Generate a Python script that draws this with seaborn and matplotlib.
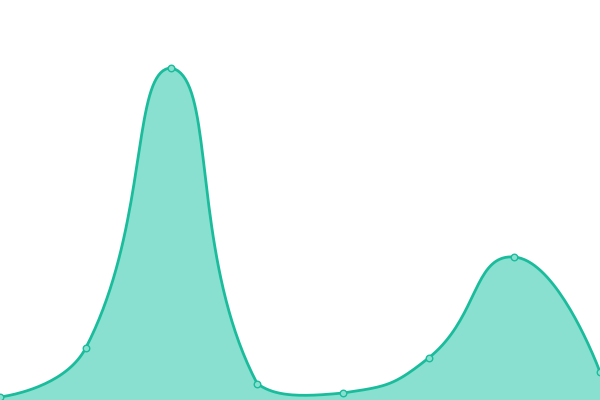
import numpy as np
import pandas as pd
import matplotlib
matplotlib.use("Agg")
import matplotlib.pyplot as plt
import seaborn as sns

# values (y axis 0..400, categories evenly spaced)
categories = [0, 1, 2, 3, 4, 5, 6, 7]
values = [3, 52, 332, 16.5, 7, 42, 143, 28]

LINE = "#1abc9c"
FILL = "#8ae0d0"
SMOOTH = 0.5


def smooth_curve(xs, ys, sx, n=40):
    """Bezier smoothing like a charting lib's smooth line, control points
    kept inside the bounding box of the data (done in pixel-ish units)."""
    px = np.asarray(xs, float) * sx
    py = np.asarray(ys, float)
    lo = np.array([px.min(), py.min()])
    hi = np.array([px.max(), py.max()])
    k = len(px)
    cps = []
    for i in range(k):
        p = np.array([px[i], py[i]])
        if i == 0 or i == k - 1:
            cps.append((p, p))
            continue
        prev = np.array([px[i - 1], py[i - 1]])
        nxt = np.array([px[i + 1], py[i + 1]])
        v = (nxt - prev) * SMOOTH
        d0 = np.linalg.norm(p - prev)
        d1 = np.linalg.norm(nxt - p)
        s = d0 + d1
        if s:
            d0, d1 = d0 / s, d1 / s
        c0 = np.clip(p - v * d0, lo, hi)
        c1 = np.clip(p + v * d1, lo, hi)
        cps.append((c0, c1))
    out_x, out_y = [], []
    t = np.linspace(0, 1, n)[:, None]
    for i in range(k - 1):
        p0 = np.array([px[i], py[i]])
        p1 = cps[i][1]
        p2 = cps[i + 1][0]
        p3 = np.array([px[i + 1], py[i + 1]])
        b = ((1 - t) ** 3 * p0 + 3 * (1 - t) ** 2 * t * p1
             + 3 * (1 - t) * t ** 2 * p2 + t ** 3 * p3)
        out_x.extend(b[:, 0] / sx)
        out_y.extend(b[:, 1])
    return np.array(out_x), np.array(out_y)


df = pd.DataFrame({"x": categories, "y": values})

sns.set_theme(style="white")
fig = plt.figure(figsize=(6, 4), dpi=100)
ax = fig.add_axes([0, 0, 1, 1])

cx, cy = smooth_curve(df["x"], df["y"], 600 / 7)
curve = pd.DataFrame({"x": cx, "y": cy})

ax.fill_between(curve["x"], 0, curve["y"], color=FILL, linewidth=0)
sns.lineplot(data=curve, x="x", y="y", ax=ax, color=LINE, linewidth=2.0,
             sort=False, estimator=None)
sns.scatterplot(data=df, x="x", y="y", ax=ax, s=22, color=FILL,
                edgecolor=LINE, linewidth=1.0, zorder=5)

ax.set_xlim(0, 7)
ax.set_ylim(0, 400)
ax.set_axis_off()

fig.savefig("out.png", dpi=100)
